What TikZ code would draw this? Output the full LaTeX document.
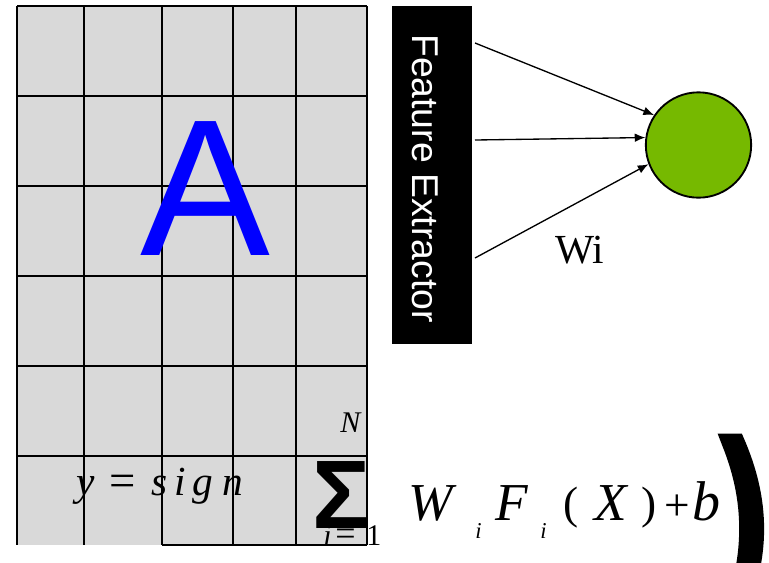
\documentclass[tikz,border=0pt]{standalone}
\usepackage{fontspec}
\setmainfont{Liberation Serif}
\setsansfont{Liberation Sans}
\newfontfamily\sigmafont{Liberation Sans}
\newfontfamily\parenfont[FakeBold=9]{DejaVu Sans}
\usetikzlibrary{arrows.meta,calc}
\definecolor{cellgray}{HTML}{D9D9D9}
\definecolor{neurongreen}{HTML}{76B900}
\newcommand\fsz[1]{\fontsize{#1}{#1}\selectfont}

\begin{document}
\begin{tikzpicture}[x=0.75pt,y=-0.75pt,
  gridline/.style={line width=1.4pt},
  extractor/.style={fill=black, minimum width=60pt, minimum height=253.5pt, inner sep=0pt},
  neuron/.style={circle, draw=black, line width=1.4pt, fill=neurongreen, minimum size=79pt, inner sep=0pt},
  feed/.style={line width=1pt, -{Latex[length=8pt,width=6.5pt]}},
  eq/.style={anchor=base west, inner sep=0pt},
]
\useasboundingbox (0,0) rectangle (769,562);

% input image grid
\fill[cellgray] (17,6) rectangle (367,545);
\foreach \gx in {17,84,162,233,296,367}
  \draw[gridline] (\gx,6) -- (\gx,545);
\foreach \gy in {6,96,186,276,366,456}
  \draw[gridline] (17,\gy) -- (367,\gy);
\draw[gridline] (162,545) -- (367,545);

\node[eq, text=blue, font=\sffamily\fsz{146pt}] (letter) at (140,255) {A};

% feature extractor
\node[extractor] (fe) at (432,175) {};
\node[eq, rotate=-90, text=white, font=\sffamily\fsz{28pt}] (fetext) at (412,34) {Feature Extractor};

% neuron and weights
\coordinate (s1) at (475,43);
\coordinate (s2) at (475,140);
\coordinate (s3) at (475,258);
\node[neuron] (n) at (698.5,145) {};
\draw[feed] (s1) -- (n.146);
\draw[feed] (s2) -- (n.172);
\draw[feed] (s3) -- (n.201);
\node[eq, font=\fsz{31pt}] (wlabel) at (555,263) {Wi};

% decision function
\foreach \px/\ch/\nm in {76/y/fy,151/s/fs,174/i/fi,192/g/fg,222/n/fn}
  \node[eq, font=\itshape\fsz{31pt}] (\nm) at (\px,495) {\ch};
\node[eq, font=\fsz{35pt}] (feq) at (109,496) {=};

\node[eq, font=\sigmafont\bfseries\fsz{73pt}] (sigma) at (312,528) {Σ};
\node[eq, font=\itshape\fsz{22.5pt}] (upper) at (340,432) {N};
\node[eq, font=\itshape\fsz{22.5pt}] (lower) at (323,545) {i};
\node[eq, font=\fsz{27pt}] (leq) at (335,545) {=};
\node[eq, font=\fsz{22.5pt}] (one) at (366,545) {1};

\node[eq, font=\itshape\fsz{40pt}] (fw) at (408,520) {W};
\node[eq, font=\itshape\fsz{17pt}] (fwi) at (475,538) {i};
\node[eq, font=\itshape\fsz{40pt}] (ff) at (495,520) {F};
\node[eq, font=\itshape\fsz{17pt}] (ffi) at (540,538) {i};
\node[eq, font=\fsz{34pt}] (lpar) at (563,518) {(};
\node[eq, font=\itshape\fsz{40pt}] (fx) at (594,520) {X};
\node[eq, font=\fsz{34pt}] (rpar) at (641,518) {)};
\node[eq, font=\fsz{34pt}] (plus) at (664,520) {+};
\node[eq, font=\itshape\fsz{42pt}] (fb) at (692,520) {b};
\node[eq, font=\parenfont\fsz{146pt}, xscale=0.69] (bigpar) at (717,590) {)};
\end{tikzpicture}
\end{document}
